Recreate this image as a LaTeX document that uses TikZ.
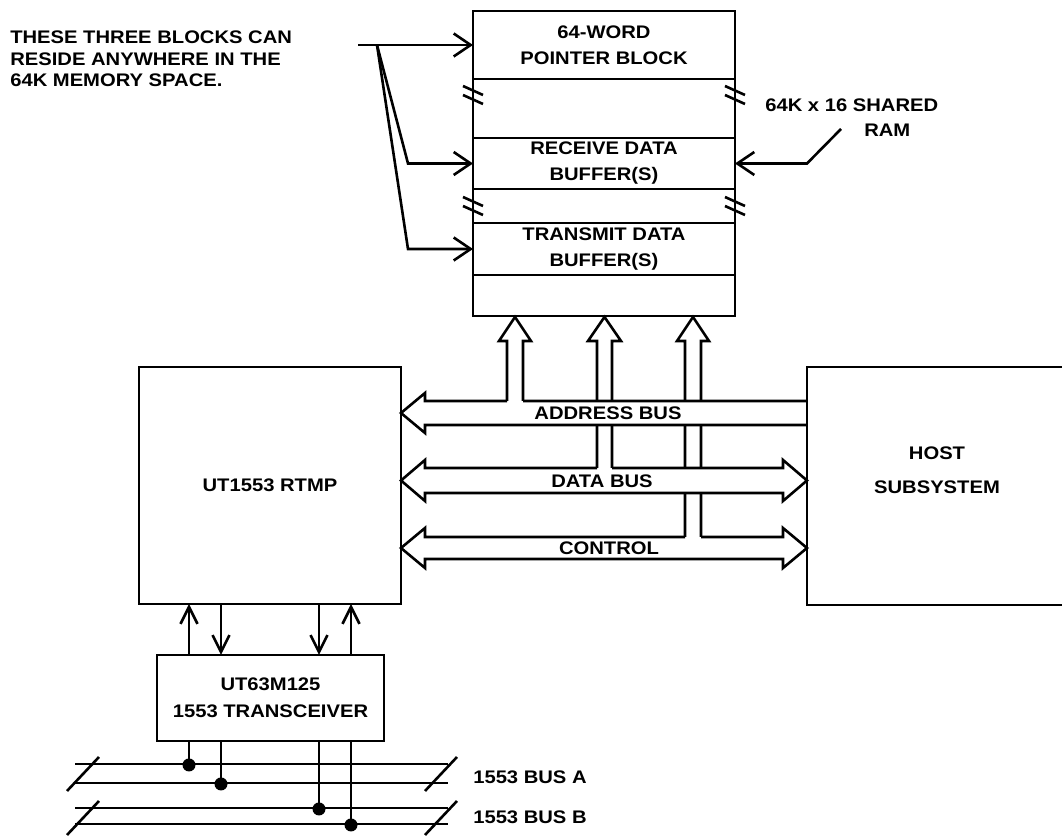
\documentclass[tikz,border=0pt]{standalone}
\usepackage{fontspec}
\setmainfont{Liberation Sans}[FakeStretch=1.11]
\usetikzlibrary{arrows.meta}
\begin{document}
\begin{tikzpicture}[x=0.5pt,y=-0.5pt,line width=1.3pt,font=\fontsize{9.1}{13}\selectfont\bfseries,box/.style={draw,inner sep=0pt,outer sep=0pt,align=center},txt/.style={inner sep=0pt,align=center},varr/.style={-{Straight Barb[length=8.5pt,width=11.5pt]}},sarr/.style={-{Straight Barb[length=8.5pt,width=8.5pt]}},dot/.style={circle,fill,inner sep=0pt,minimum size=6.5pt}]
\useasboundingbox (0,0) rectangle (1062,838);
\clip (0,0) rectangle (1062,838);
% shared RAM
\node[box,minimum width=131pt,minimum height=152.5pt] (mem) at (604,163.5) {};
\node[box,minimum width=131pt,minimum height=34pt] (ptr) at (604,45) {64-WORD\\POINTER BLOCK};
\node[box,minimum width=131pt,minimum height=25.5pt] (rcv) at (604,163.5) {RECEIVE DATA\\BUFFER(S)};
\node[box,minimum width=131pt,minimum height=26pt] (xmt) at (604,249) {TRANSMIT DATA\\BUFFER(S)};
\foreach \bx/\by in {473/95,735/95,473/206,735/206}
  \draw (\bx-10,\by-9) -- (\bx+10,\by) (\bx-10,\by) -- (\bx+10,\by+9);
\node[txt,anchor=west,align=left,font=\fontsize{9.1}{10.75}\selectfont\bfseries] (note) at (9,59) {THESE THREE BLOCKS CAN\\RESIDE ANYWHERE IN THE\\64K MEMORY SPACE.};
\coordinate (src) at (358,45);
\coordinate (fan) at (377,45);
\coordinate (k1) at (408,163.5);
\coordinate (k2) at (408,249);
\draw[varr] (src) -- (ptr.west);
\draw[varr] (fan) -- (k1) -- (rcv.west);
\draw[varr] (fan) -- (k2) -- (xmt.west);
\node[txt,anchor=west,align=left,font=\fontsize{9.1}{12.5}\selectfont\bfseries] (ramlbl) at (764,118) {64K x 16 SHARED\\\hspace*{49.5pt}RAM};
\coordinate (ramtip) at (841,129);
\coordinate (ramknee) at (807,163.5);
\draw[varr] (ramtip) -- (ramknee) -- (rcv.east);
% processor and host
\node[box,minimum width=131pt,minimum height=118.5pt] (rtmp) at (270,485.5) {UT1553 RTMP};
\node[box,minimum width=130pt,minimum height=119pt] (host) at (937,486) {};
\node[txt,font=\fontsize{9.1}{17}\selectfont\bfseries] (hostlbl) at (937,470) {HOST\\SUBSYSTEM};
% buses
\draw (807,401) -- (523,401) (507,401) -- (425,401) -- (425,393) -- (401,413) -- (425,433) -- (425,425) -- (807,425);
\draw (597,468) -- (425,468) -- (425,460) -- (401,480.5) -- (425,501) -- (425,493) -- (783,493) -- (783,501) -- (807,480.5) -- (783,460) -- (783,468) -- (612,468);
\draw (685,537) -- (425,537) -- (425,528) -- (401,548) -- (425,568) -- (425,559) -- (783,559) -- (783,568) -- (807,548) -- (783,528) -- (783,537) -- (701,537);
\draw (507,401) -- (507,341) -- (499,341) -- (515,317) -- (531,341) -- (523,341) -- (523,401);
\draw (597,468) -- (597,425) (597,401) -- (597,341) -- (588,341) -- (604.5,317) -- (621,341) -- (612,341) -- (612,401) (612,425) -- (612,468);
\draw (685,537) -- (685,493) (685,468) -- (685,425) (685,401) -- (685,341) -- (677,341) -- (693,317) -- (709,341) -- (701,341) -- (701,401) (701,425) -- (701,468) (701,493) -- (701,537);
\node[txt] (addrlbl) at (608,413) {ADDRESS BUS};
\node[txt] (datalbl) at (602,481) {DATA BUS};
\node[txt] (ctrllbl) at (609,548) {CONTROL};
% transceiver
\node[box,minimum width=113.5pt,minimum height=43pt,font=\fontsize{9.1}{13.5}\selectfont\bfseries] (xcvr) at (270.5,698) {UT63M125\\1553 TRANSCEIVER};
\coordinate (ta) at (189,655);
\coordinate (tb) at (221,655);
\coordinate (tc) at (319,655);
\coordinate (td) at (351,655);
\draw[sarr] (ta) -- (ta |- rtmp.south);
\draw[sarr] (tb |- rtmp.south) -- (tb);
\draw[sarr] (tc |- rtmp.south) -- (tc);
\draw[sarr] (td) -- (td |- rtmp.south);
% 1553 buses
\draw (75,764) -- (448,764) (75,783) -- (448,783);
\draw (67,791) -- (99,757) (425,791) -- (457,757);
\draw (75,808) -- (448,808) (75,824) -- (448,824);
\draw (67,835) -- (99,801) (425,835) -- (457,801);
\node[dot] (da) at (189,765) {};
\node[dot] (db) at (221,784) {};
\node[dot] (dc) at (319,809) {};
\node[dot] (dd) at (351,825) {};
\draw (ta |- xcvr.south) -- (da.center);
\draw (tb |- xcvr.south) -- (db.center);
\draw (tc |- xcvr.south) -- (dc.center);
\draw (td |- xcvr.south) -- (dd.center);
\node[txt,anchor=west] (buslblA) at (472,777) {1553 BUS A};
\node[txt,anchor=west] (buslblB) at (472,817) {1553 BUS B};
\end{tikzpicture}
\end{document}
